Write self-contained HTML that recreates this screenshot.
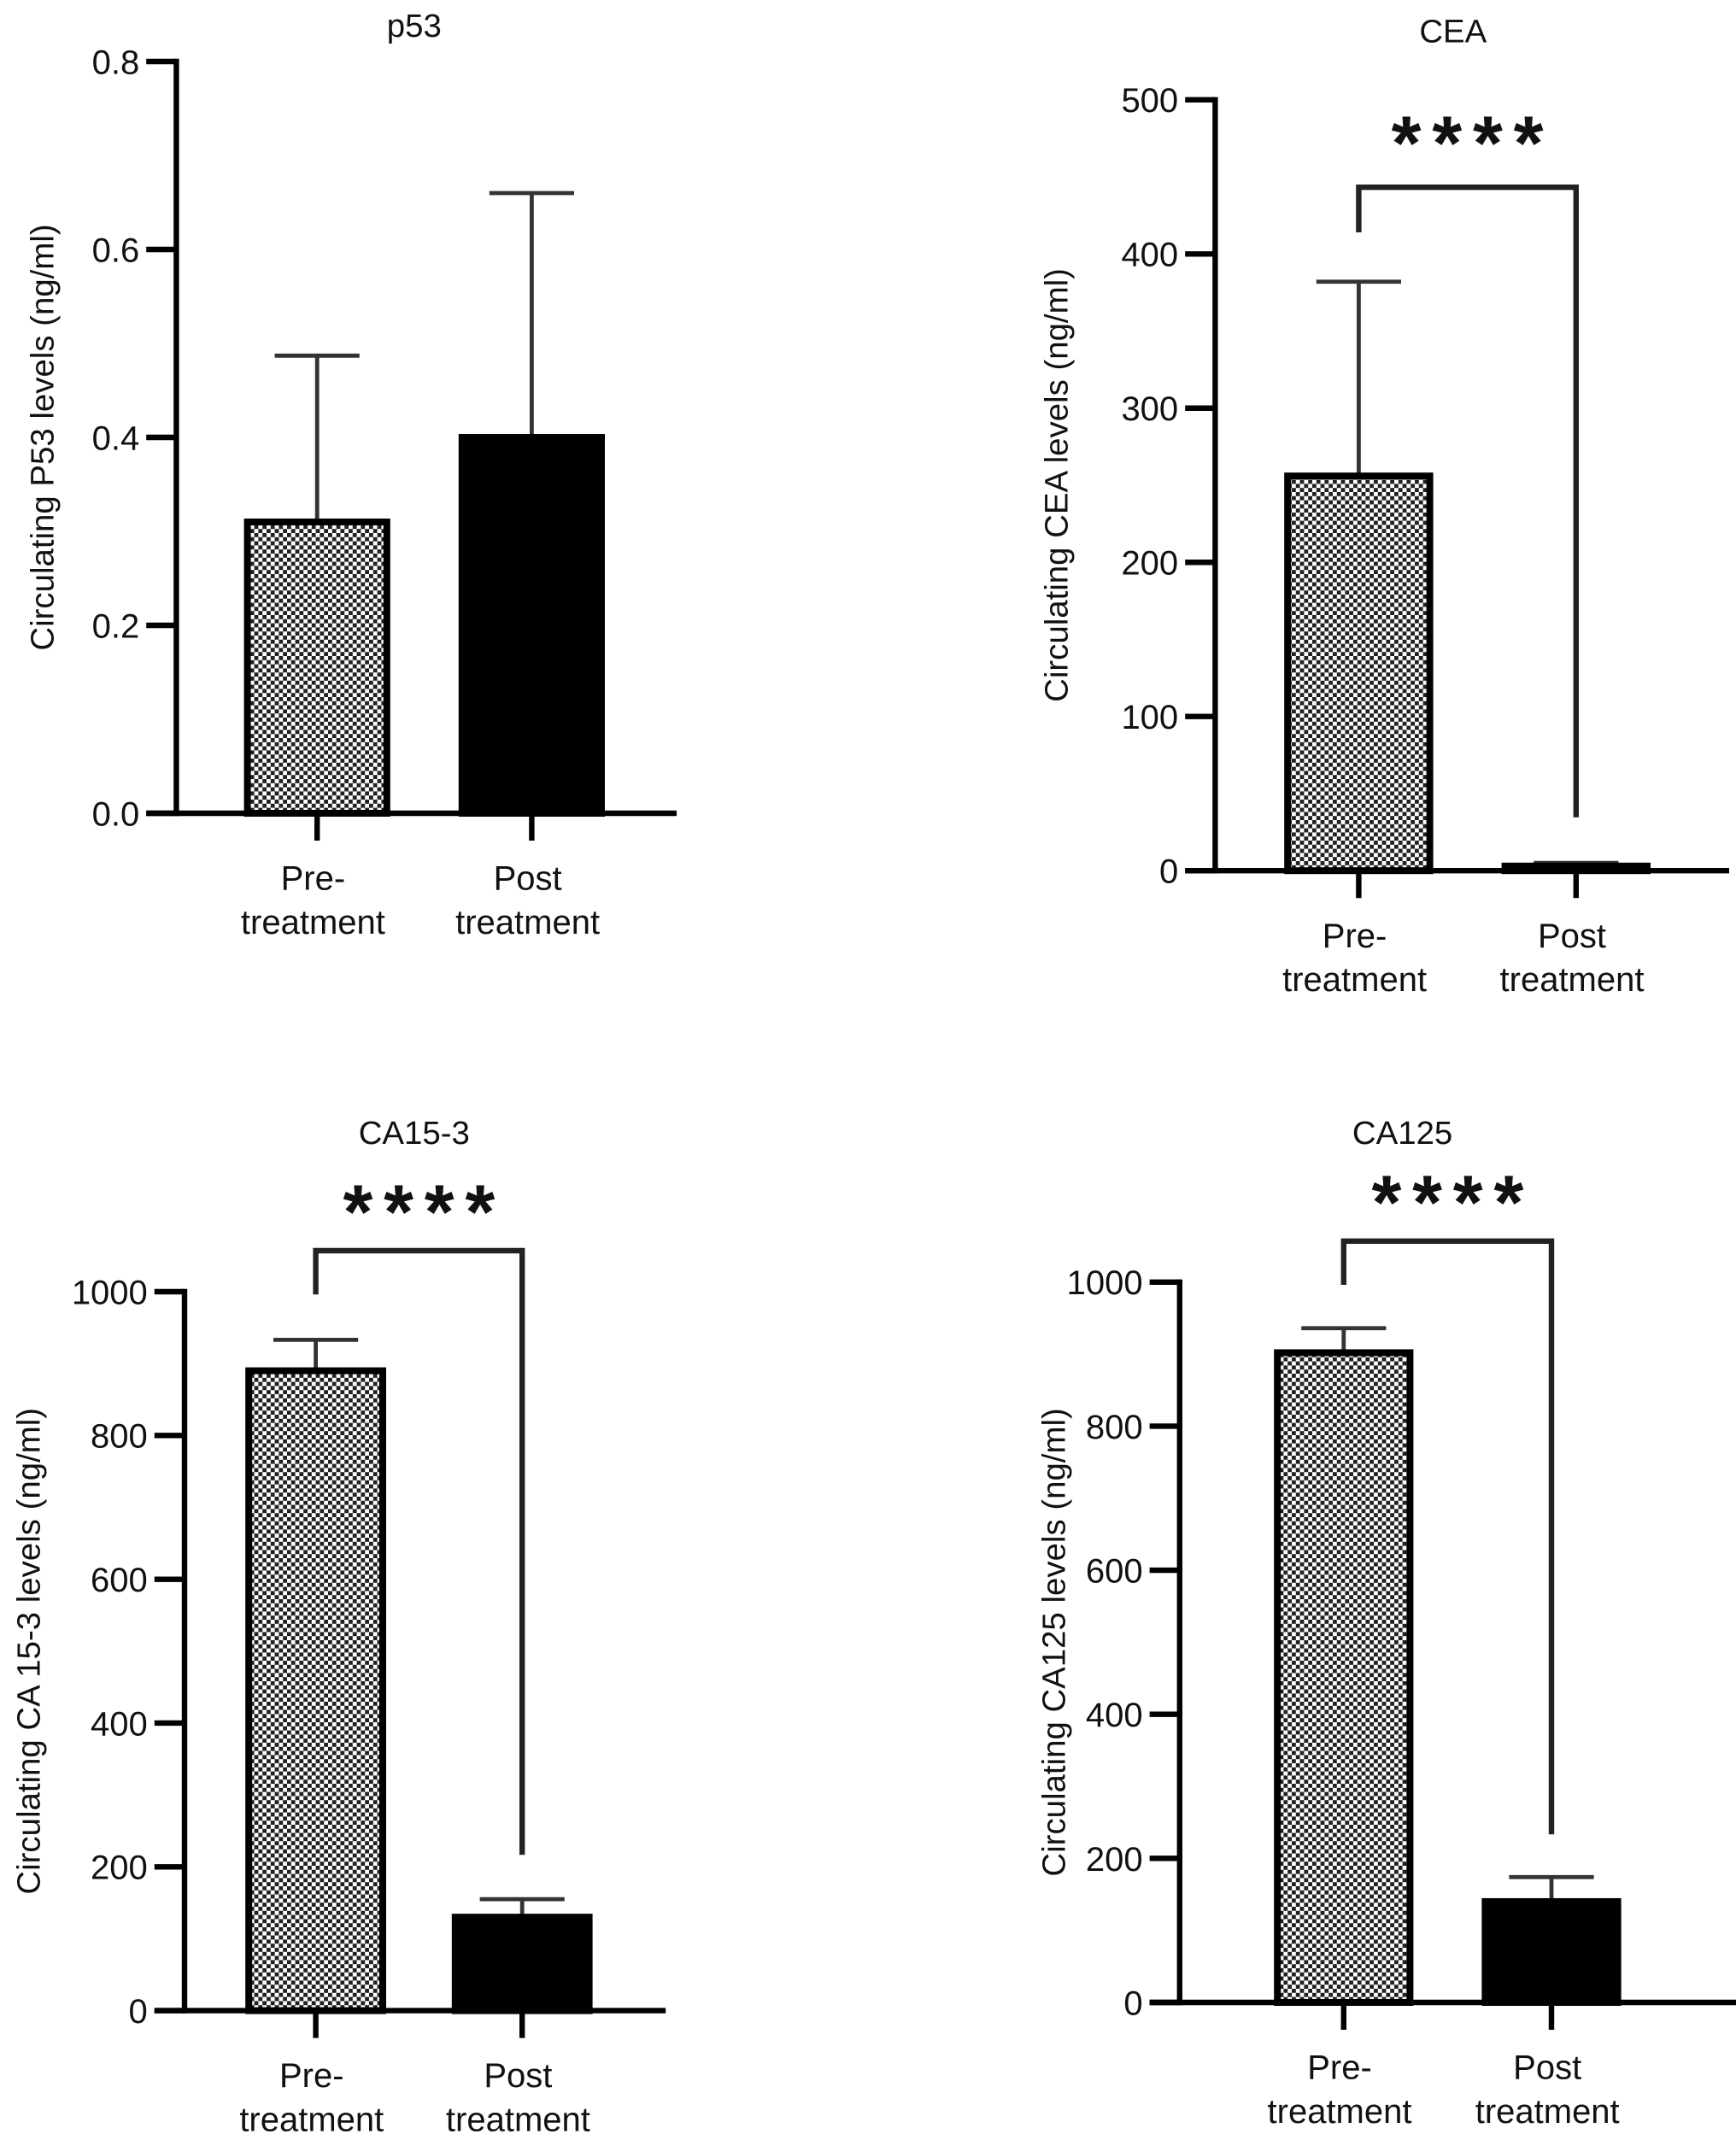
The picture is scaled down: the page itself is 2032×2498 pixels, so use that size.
<!DOCTYPE html>
<html><head><meta charset="utf-8"><style>
html,body{margin:0;padding:0;background:#fff}
svg{display:block}
text{font-family:"Liberation Sans",sans-serif;fill:#111}
</style></head><body>
<svg id="fig" width="2032" height="2498" viewBox="0 0 1270 1561.25" xmlns="http://www.w3.org/2000/svg">
<defs>
<pattern id="chk" width="6" height="6" patternUnits="userSpaceOnUse">
<rect width="6" height="6" fill="#fff"/><rect width="3" height="3" fill="#222"/><rect x="3" y="3" width="3" height="3" fill="#222"/>
</pattern>
</defs>
</svg>
<script>
const categories = ["Pre-|treatment", "Post|treatment"];
const p53Values = [0.31, 0.40];
const p53Errors = [0.487, 0.66];
const p53Ticks = ["0.0","0.2","0.4","0.6","0.8"];
const ceaValues = [256, 3];
const ceaErrors = [382, 5];
const ceaTicks = ["0","100","200","300","400","500"];
const ca153Values = [890, 130];
const ca153Errors = [933, 155];
const ca153Ticks = ["0","200","400","600","800","1000"];
const ca125Values = [902, 140];
const ca125Errors = [936, 174];
const ca125Ticks = ["0","200","400","600","800","1000"];

const svg = document.getElementById('fig');
const NS = 'http://www.w3.org/2000/svg';
function mk(tag, attrs, parent, txt){
  const e = document.createElementNS(NS, tag);
  for (const k in attrs) e.setAttribute(k, attrs[k]);
  if (txt !== undefined) e.textContent = txt;
  parent.appendChild(e);
  return e;
}
const panels = [
 {name:'p53', title:'p53', ylabel:'Circulating P53 levels (ng/ml)', vals:p53Values, errs:p53Errors, ticks:p53Ticks, max:0.8,
  ax:129, top:45, base:595, xl:107, xr:495, cx:[232,389], bw:102, tx:303, ty:18, ylx:30, sig:null},
 {name:'cea', title:'CEA', ylabel:'Circulating CEA levels (ng/ml)', vals:ceaValues, errs:ceaErrors, ticks:ceaTicks, max:500,
  ax:889, top:73, base:637, xl:867, xr:1265, cx:[994,1153], bw:104, tx:1063, ty:22, ylx:772, sig:{y:137, l:170, r:598, sy:100}},
 {name:'ca153', title:'CA15-3', ylabel:'Circulating CA 15-3 levels (ng/ml)', vals:ca153Values, errs:ca153Errors, ticks:ca153Ticks, max:1000,
  ax:135, top:945, base:1471, xl:113, xr:487, cx:[231,382], bw:98, tx:303, ty:828, ylx:20, sig:{y:915, l:947, r:1357, sy:882}},
 {name:'ca125', title:'CA125', ylabel:'Circulating CA125 levels (ng/ml)', vals:ca125Values, errs:ca125Errors, ticks:ca125Ticks, max:1000,
  ax:863, top:938, base:1465, xl:841, xr:1278, cx:[983,1135], bw:97, tx:1026, ty:828, ylx:770, sig:{y:908, l:940, r:1342, sy:875}}
];
panels.forEach(p => {
  const g = mk('g', {}, svg);
  
  
  const y = v => p.base - (v / p.max) * (p.base - p.top);
  const t = mk('text', {x:p.tx, y:p.ty+9, 'font-size':24, 'text-anchor':'middle'}, g, p.title);
  
  
  const midY = (p.top + p.base) / 2;
  const yl = mk('text', {x:0, y:0, 'font-size':24, 'text-anchor':'middle', transform:`translate(${p.ylx+9},${midY}) rotate(-90)`}, g, p.ylabel);
  
  
  p.vals.forEach((v, i) => {
    const x0 = p.cx[i] - p.bw/2;
    const ey = y(p.errs[i]);
    const el = mk('line', {x1:p.cx[i], x2:p.cx[i], y1:y(v), y2:ey, stroke:'#333', 'stroke-width':3}, g);
    
    
    const ec = mk('line', {x1:p.cx[i]-31, x2:p.cx[i]+31, y1:ey, y2:ey, stroke:'#333', 'stroke-width':3}, g);
    
    
    const h = Math.max(p.base - y(v), 0.5);
    const b = mk('rect', {x:x0, y:y(v), width:p.bw, height:h, fill: i===0 ? 'url(#chk)' : '#000', stroke:'#000', 'stroke-width':5}, g);
    
    
    const xt = mk('line', {x1:p.cx[i], x2:p.cx[i], y1:p.base, y2:p.base+20, stroke:'#000', 'stroke-width':4}, g);
    
    
    const parts = categories[i].split('|');
    const xlab = mk('text', {x:p.cx[i]-3, y:p.base+56, 'font-size':25, 'text-anchor':'middle'}, g);
    
    
    mk('tspan', {x:p.cx[i]-3, dy:0}, xlab, parts[0]);
    mk('tspan', {x:p.cx[i]-3, dy:32}, xlab, parts[1]);
  });
  const ya = mk('line', {x1:p.ax, x2:p.ax, y1:p.top-2, y2:p.base+2, stroke:'#000', 'stroke-width':4}, g);
  
  
  const xa = mk('line', {x1:p.xl, x2:p.xr, y1:p.base, y2:p.base, stroke:'#000', 'stroke-width':4}, g);
  
  
  p.ticks.forEach(tk => {
    const ty = y(parseFloat(tk));
    const tl = mk('line', {x1:p.xl, x2:p.ax, y1:ty, y2:ty, stroke:'#000', 'stroke-width':4}, g);
    
    
    const tt = mk('text', {x:p.xl-5, y:ty+9, 'font-size':25, 'text-anchor':'end'}, g, tk);
    
    
  });
  if (p.sig) {
    const s = p.sig;
    const br = mk('polyline', {points:`${p.cx[0]},${s.l} ${p.cx[0]},${s.y} ${p.cx[1]},${s.y} ${p.cx[1]},${s.r}`, fill:'none', stroke:'#222', 'stroke-width':4}, g);
    
    
    const st = mk('text', {x:(p.cx[0]+p.cx[1])/2+4, y:s.sy+24, 'font-size':56, 'font-weight':'bold', 'text-anchor':'middle', 'letter-spacing':8}, g, '****');
    
    
  }
});
</script>
</body></html>
